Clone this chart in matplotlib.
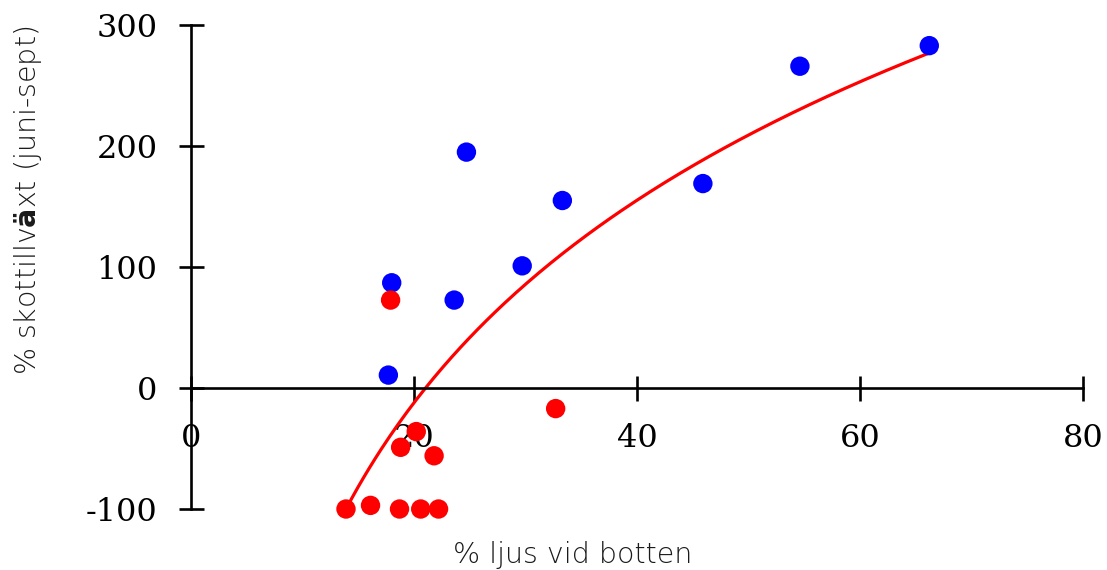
import numpy as np
import matplotlib
matplotlib.use("Agg")
import matplotlib.pyplot as plt

plt.rcParams['axes.unicode_minus'] = False
plt.rcParams['mathtext.fontset'] = 'dejavusans'

# shoots with positive growth (blue)
x_blue = [17.7, 18.0, 23.6, 24.7, 29.7, 33.3, 45.9, 54.6, 66.2]
y_blue = [10.7, 87, 72.7, 195, 101, 155, 169, 266, 283]

# shoots with negative / low growth (red)
x_red = [17.9, 32.7, 20.2, 18.8, 21.8, 13.9, 16.1, 18.7, 20.6, 22.2]
y_red = [72.7, -17, -36, -49, -56, -100, -97, -100, -100, -100]

# logarithmic trendline y = a*ln(x) + b
fit_a = 241.5
fit_b = -735.6
fit_xmin, fit_xmax = 13.9, 66.2

xticks = [0, 20, 40, 60, 80]
yticks = [-100, 0, 100, 200, 300]

fig = plt.figure(figsize=(11.07, 5.70), dpi=100)
ax = fig.add_axes([0.1725, 0.107, 0.806, 0.849])

xs = np.linspace(fit_xmin, fit_xmax, 200)
ax.plot(xs, fit_a * np.log(xs) + fit_b, color='#ff0000', lw=2.3, zorder=2)

ax.scatter(x_blue, y_blue, s=195, color='#0000ff', edgecolors='none',
           zorder=3, clip_on=False)
ax.scatter(x_red, y_red, s=195, color='#ff0000', edgecolors='none',
           zorder=3, clip_on=False)

ax.set_xlim(0, 80)
ax.set_ylim(-100, 300)
ax.spines['left'].set_position(('data', 0))
ax.spines['bottom'].set_position(('data', 0))
ax.spines['right'].set_visible(False)
ax.spines['top'].set_visible(False)
for s in ('left', 'bottom'):
    ax.spines[s].set_linewidth(1.9)
ax.set_xticks(xticks)
ax.set_yticks(yticks)
ax.tick_params(axis='both', direction='inout', length=18, width=1.9,
               labelsize=23)
ax.tick_params(axis='x', pad=16)
ax.tick_params(axis='y', pad=15)
for lab in ax.get_xticklabels() + ax.get_yticklabels():
    lab.set_fontfamily('DejaVu Serif')

fig.text(0.517, 0.027, '% ljus vid botten', ha='center', va='center',
         fontsize=20.5, family='DejaVu Sans', weight='light', color='#1a1a1a')
fig.text(0.025, 0.648, '% skottillv$\\mathbf{ä}$xt (juni-sept)', ha='center',
         va='center', rotation=90, fontsize=20.5, family='DejaVu Sans',
         weight='light', color='#1a1a1a')

fig.savefig('out.png', dpi=100)
